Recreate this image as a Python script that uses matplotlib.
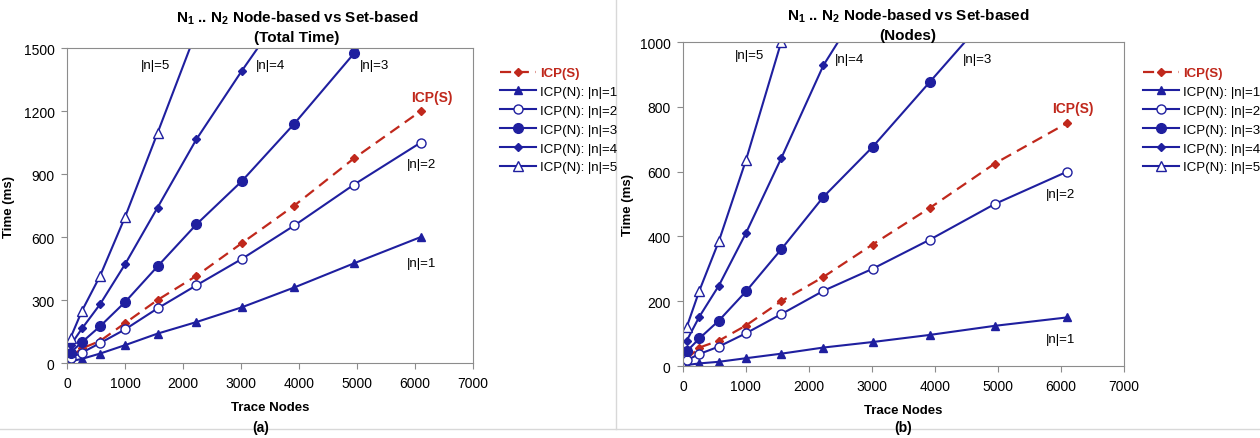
import matplotlib
matplotlib.use("Agg")
import matplotlib.pyplot as plt
from matplotlib.lines import Line2D

plt.rcParams["font.family"] = ["Liberation Sans", "DejaVu Sans"]
plt.rcParams["mathtext.fontset"] = "custom"
plt.rcParams["mathtext.rm"] = "Liberation Sans"
plt.rcParams["mathtext.bf"] = "Liberation Sans:bold"

# trace nodes (x values shared by all series)
nodes = [60, 260, 570, 1000, 1560, 2230, 3010, 3920, 4950, 6100]

# (a) total time
time_s = [30, 70, 105, 190, 300, 415, 570, 750, 975, 1200]
time_n1 = [8, 20, 45, 85, 140, 195, 265, 360, 475, 600]
time_n2 = [25, 50, 95, 160, 260, 370, 495, 655, 850, 1050]
time_n3 = [50, 100, 175, 290, 460, 660, 865, 1140, 1475, 1850]
time_n4 = [85, 165, 280, 470, 740, 1065, 1390, 1750]
time_n5 = [120, 250, 415, 695, 1095, 1580]

# (b) nodes
nodes_s = [22, 57, 78, 125, 200, 275, 375, 488, 625, 750]
nodes_n1 = [3, 8, 13, 24, 38, 57, 74, 96, 124, 150]
nodes_n2 = [18, 37, 60, 101, 160, 232, 300, 390, 500, 600]
nodes_n3 = [45, 85, 140, 230, 360, 522, 676, 877, 1105]
nodes_n4 = [78, 152, 248, 410, 641, 928, 1170]
nodes_n5 = [120, 232, 385, 635, 1000, 1450]

labels = ["ICP(S)", "ICP(N): |n|=1", "ICP(N): |n|=2", "ICP(N): |n|=3",
          "ICP(N): |n|=4", "ICP(N): |n|=5"]

blue = "#1f1f9f"
red = "#c0281c"
grey = "#8c8c8c"

fig = plt.figure(figsize=(12.6, 4.39), dpi=100)
ax1 = fig.add_axes([0.0532, 0.1708, 0.3222, 0.7175])
ax2 = fig.add_axes([0.542, 0.164, 0.350, 0.738])


def draw(ax, s, n1, n2, n3, n4, n5):
    ax.plot(nodes, s, color=red, lw=1.6, ls=(0, (5, 3)), marker="D", ms=4.5, label=labels[0])
    ax.plot(nodes[:len(n1)], n1, color=blue, lw=1.5, marker="^", ms=6, label=labels[1])
    ax.plot(nodes[:len(n2)], n2, color=blue, lw=1.5, marker="o", ms=6.5, mfc="white", mew=1, label=labels[2])
    ax.plot(nodes[:len(n3)], n3, color=blue, lw=1.5, marker="o", ms=7, label=labels[3])
    ax.plot(nodes[:len(n4)], n4, color=blue, lw=1.5, marker="D", ms=4.5, label=labels[4])
    ax.plot(nodes[:len(n5)], n5, color=blue, lw=1.5, marker="^", ms=6.5, mfc="white", mew=1, label=labels[5])
    ax.set_xlim(0, 7000)
    ax.set_xticks(range(0, 7001, 1000))
    for sp in ax.spines.values():
        sp.set_color(grey)
    ax.tick_params(colors=grey, labelcolor="black", labelsize=10, length=4, pad=5)
    ax.set_xlabel("Trace Nodes", fontweight="bold", fontsize=9.5, labelpad=8)
    ax.set_ylabel("Time (ms)", fontweight="bold", fontsize=9.5)


draw(ax1, time_s, time_n1, time_n2, time_n3, time_n4, time_n5)
ax1.set_ylim(0, 1500)
ax1.set_yticks(range(0, 1501, 300))
ax1.yaxis.set_label_coords(-0.128, 0.5)

draw(ax2, nodes_s, nodes_n1, nodes_n2, nodes_n3, nodes_n4, nodes_n5)
ax2.set_ylim(0, 1000)
ax2.set_yticks(range(0, 1001, 200))
ax2.yaxis.set_label_coords(-0.112, 0.5)

# in-plot series labels
lab_kw = dict(fontsize=9.5, ha="center", va="center")
for ax, pos in [(ax1, [(1520, 1420, "|n|=5"), (3500, 1420, "|n|=4"), (5310, 1420, "|n|=3"),
                       (6120, 948, "|n|=2"), (6120, 476, "|n|=1")]),
                (ax2, [(1063, 960, "|n|=5"), (2650, 948, "|n|=4"), (4680, 948, "|n|=3"),
                       (6000, 531, "|n|=2"), (6000, 83, "|n|=1")])]:
    for x, y, t in pos:
        ax.text(x, y, t, **lab_kw)
ax1.text(6290, 1267, "ICP(S)", color=red, fontweight="bold", fontsize=10, ha="center", va="center")
ax2.text(6190, 796, "ICP(S)", color=red, fontweight="bold", fontsize=10, ha="center", va="center")

# titles
fig.text(297 / 1260, 1 - 10 / 439, "$\\mathbf{N_1}$ .. $\\mathbf{N_2}$ Node-based vs Set-based\n(Total Time)",
         ha="center", va="top", fontweight="bold", fontsize=11, linespacing=1.35)
fig.text(908 / 1260, 1 - 8 / 439, "$\\mathbf{N_1}$ .. $\\mathbf{N_2}$ Node-based vs Set-based\n(Nodes)",
         ha="center", va="top", fontweight="bold", fontsize=11, linespacing=1.35)
fig.text(261 / 1260, 1 - 428 / 439, "(a)", ha="center", va="center", fontweight="bold", fontsize=10)
fig.text(903 / 1260, 1 - 428 / 439, "(b)", ha="center", va="center", fontweight="bold", fontsize=10)

# legends
for ax, x0 in [(ax1, 500 / 1260), (ax2, 1143 / 1260)]:
    h, l = ax.get_legend_handles_labels()
    leg = fig.legend(h, l, loc="upper left", bbox_to_anchor=(x0, 0.845), frameon=False,
                     fontsize=9.5, handlelength=2.7, handletextpad=0.35, labelspacing=0.5,
                     borderpad=0, borderaxespad=0)
    leg.get_texts()[0].set_color(red)
    leg.get_texts()[0].set_fontweight("bold")

# panel separators
fig.add_artist(Line2D([616 / 1260, 616 / 1260], [1 - 430 / 439, 1], color="#d8d8d8", lw=1))
fig.add_artist(Line2D([0, 1], [1 - 430 / 439, 1 - 430 / 439], color="#d8d8d8", lw=1))

fig.savefig("out.png", dpi=100)
